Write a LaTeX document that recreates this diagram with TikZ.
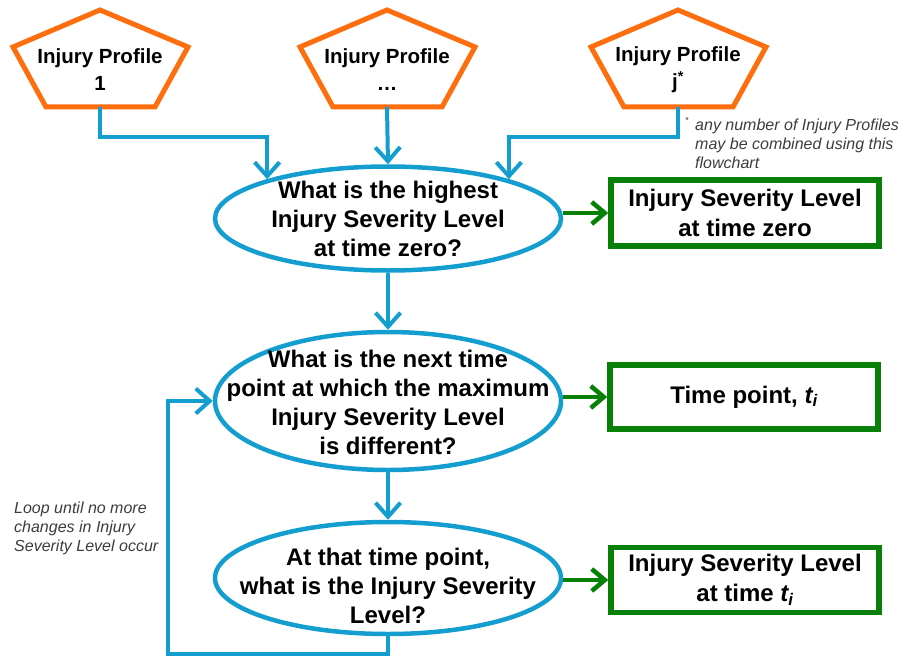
\documentclass[tikz,border=0pt]{standalone}
\usepackage{fontspec}
\setmainfont{Liberation Sans}
\usetikzlibrary{shapes.geometric,arrows.meta}
\definecolor{pOrange}{RGB}{255,110,14}
\definecolor{pBlue}{RGB}{20,158,208}
\definecolor{pGreen}{RGB}{8,128,8}
\definecolor{pNote}{RGB}{60,60,60}
\tikzset{
  pQuestion/.style={ellipse, draw=pBlue, line width=4.5pt, inner sep=0pt},
  pQText/.style={align=center, inner sep=0pt, font=\bfseries\fontsize{24}{29}\selectfont},
  pAnswer/.style={rectangle, draw=pGreen, line width=5.5pt, inner sep=0pt, minimum width=268pt, align=center, font=\bfseries\fontsize{24}{30}\selectfont},
  pBlueArrow/.style={draw=pBlue, line width=4pt, -{Straight Barb[length=14pt,width=25pt]}},
  pGreenArrow/.style={draw=pGreen, line width=4.5pt, -{Straight Barb[length=13pt,width=22pt]}},
  pNoteText/.style={align=left, inner sep=0pt, text=pNote, font=\itshape\fontsize{16}{19}\selectfont}
}
\newcommand{\pFlowProfile}[3]{%
  \draw[pOrange, line width=5pt, line join=miter] (#2,10) -- (#2+88,47) -- (#2+55,107) -- (#2-54,107) -- (#2-87,47) -- cycle;
  \node[align=center, inner sep=0pt, font=\bfseries\fontsize{20.5}{27}\selectfont] (#1) at (#2,70) {Injury Profile\\#3};
  \coordinate (#1-s) at (#2,107);}

\begin{document}
\begin{tikzpicture}[x=1pt,y=-1pt]
\useasboundingbox (0,0) rectangle (904,658);
% injury profiles
\pFlowProfile{p1}{100}{1}
\pFlowProfile{p2}{387}{\ldots}
\pFlowProfile{p3}{678}{j\textsuperscript{*}}
\node[inner sep=0pt, text=pNote, font=\fontsize{9}{9}\selectfont] (fnstar) at (687,120) {*};
\node[pNoteText, anchor=north west] (fn) at (695,119) {any number of Injury Profiles\\may be combined using this\\flowchart};
% questions
\node[pQuestion, minimum width=346pt, minimum height=104pt] (q1) at (388,218.5) {};
\node[pQText] (q1t) at (388,219) {What is the highest\\Injury Severity Level\\at time zero?};
\node[pQuestion, minimum width=346pt, minimum height=138pt] (q2) at (388,401) {};
\node[pQText] (q2t) at (388,402) {What is the next time\\point at which the maximum\\Injury Severity Level\\is different?};
\node[pQuestion, minimum width=346pt, minimum height=112pt] (q3) at (388,578) {};
\node[pQText] (q3t) at (388,586) {At that time point,\\what is the Injury Severity\\Level?};
% answers
\node[pAnswer, minimum height=66pt] (a1) at (745,213) {Injury Severity Level\\at time zero};
\node[pAnswer, minimum height=64pt] (a2) at (744,397) {Time point, {\itshape t}\textsubscript{\itshape i}};
\node[pAnswer, minimum height=65pt] (a3) at (745,580) {Injury Severity Level\\at time {\itshape t}\textsubscript{\itshape i}};
% loop note
\node[pNoteText, anchor=north west] (loopnote) at (14,502) {Loop until no more\\changes in Injury\\Severity Level occur};
\coordinate (loopbot) at (168,654);
% connectors
\draw[pBlueArrow] (p1-s) -- ++(0,30) -| (q1.162);
\draw[pBlueArrow] (p2-s) -- (q1.north);
\draw[pBlueArrow] (p3-s) -- ++(0,30) -| (q1.18);
\draw[pBlueArrow] (q1.south) -- (q2.north);
\draw[pBlueArrow] (q2.south) -- (q3.north);
\draw[pBlueArrow] (q3.south) |- (loopbot) |- (q2.west);
\draw[pGreenArrow] (q1.east |- a1.west) -- (a1.west);
\draw[pGreenArrow] (q2.east |- a2.west) -- (a2.west);
\draw[pGreenArrow] (q3.east |- a3.west) -- (a3.west);
\end{tikzpicture}
\end{document}
